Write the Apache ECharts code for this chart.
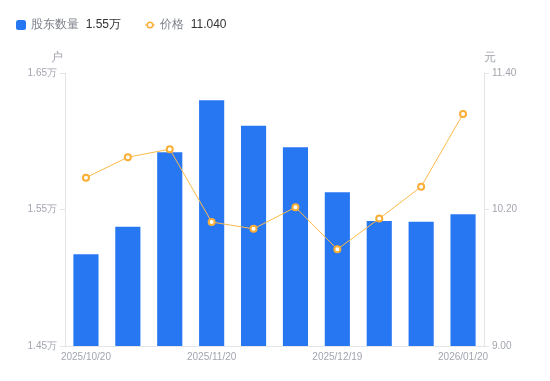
<!DOCTYPE html>
<html>
<head>
<meta charset="utf-8">
<script src="https://cdn.jsdelivr.net/npm/echarts@6/dist/echarts.min.js"></script>
<style>html,body{margin:0;padding:0;background:#fff}#c{width:550px;height:381px}</style>
</head>
<body>
<div id="c"></div>
<script>
const categories = ['2025/10/20','2025/10/31','2025/11/10','2025/11/20','2025/11/28','2025/12/10','2025/12/19','2025/12/31','2026/01/09','2026/01/20'];
const holders = [15172, 15374, 15919, 16300, 16114, 15956, 15626, 15416, 15411, 15465];
const prices = [10.48, 10.66, 10.73, 10.09, 10.03, 10.22, 9.85, 10.12, 10.40, 11.04];
const holderAxisTicks = [14500, 15500, 16500];
const priceAxisTicks = [9.00, 10.20, 11.40];
const legendLatest = {'股东数量': '1.55万', '价格': '11.040'};

const gray = '#a2a5ae';
const lineGray = '#e4e5e8';
const lineIcon = 'path://M0 4.4H2V5.6H0Z M8 4.4H10V5.6H8Z M1.5 5A3.5 3.5 0 1 1 8.5 5A3.5 3.5 0 1 1 1.5 5Z M3 5A2 2 0 1 0 7 5A2 2 0 1 0 3 5Z';
const chart = echarts.init(document.getElementById('c'));
chart.setOption({
  animation: false,
  legend: {
    left: 11, top: 14, itemGap: 24, itemWidth: 10, itemHeight: 10,
    symbolKeepAspect: true,
    data: [{name: '股东数量', icon: 'roundRect'}, {name: '价格', icon: lineIcon, itemStyle: {color: '#FBAE35', borderWidth: 0}}],
    formatter: n => '{a|' + n + '}  {b|' + legendLatest[n] + '}',
    textStyle: {
      rich: {
        a: {fontSize: 12, color: '#7d808a', fontFamily: 'sans-serif'},
        b: {fontSize: 12, color: '#333', fontFamily: 'sans-serif'}
      }
    }
  },
  grid: {left: 65, right: 66, top: 73, bottom: 35},
  xAxis: {
    type: 'category', data: categories,
    axisLine: {lineStyle: {color: lineGray}},
    axisTick: {show: false},
    axisLabel: {interval: 2, color: gray, fontSize: 10, margin: 6}
  },
  yAxis: [{
    type: 'value', name: '户', min: holderAxisTicks[0], max: holderAxisTicks[2],
    interval: holderAxisTicks[1] - holderAxisTicks[0],
    nameGap: 9,
    nameTextStyle: {color: gray, fontSize: 12, align: 'right', padding: [0, 2, 0, 0]},
    axisLine: {show: true, lineStyle: {color: lineGray}},
    axisTick: {show: true, lineStyle: {color: lineGray}},
    splitLine: {show: false},
    axisLabel: {color: gray, fontSize: 10, formatter: v => (v / 10000).toFixed(2) + '万'}
  }, {
    type: 'value', name: '元', min: priceAxisTicks[0], max: priceAxisTicks[2],
    interval: priceAxisTicks[1] - priceAxisTicks[0],
    nameGap: 9,
    nameTextStyle: {color: gray, fontSize: 12, align: 'left', padding: [0, 0, 0, 0]},
    axisLine: {show: true, lineStyle: {color: lineGray}},
    axisTick: {show: true, lineStyle: {color: lineGray}},
    splitLine: {show: false},
    axisLabel: {color: gray, fontSize: 10, formatter: v => v.toFixed(2)}
  }],
  series: [{
    name: '股东数量', type: 'bar', data: holders, barWidth: '60%',
    itemStyle: {color: '#2777F2'}
  }, {
    name: '价格', type: 'line', yAxisIndex: 1, data: prices,
    symbol: 'emptyCircle', symbolSize: 6,
    lineStyle: {color: '#FDB94A', width: 1},
    itemStyle: {color: '#FBAE35', borderWidth: 2}
  }]
});
</script>
</body>
</html>
